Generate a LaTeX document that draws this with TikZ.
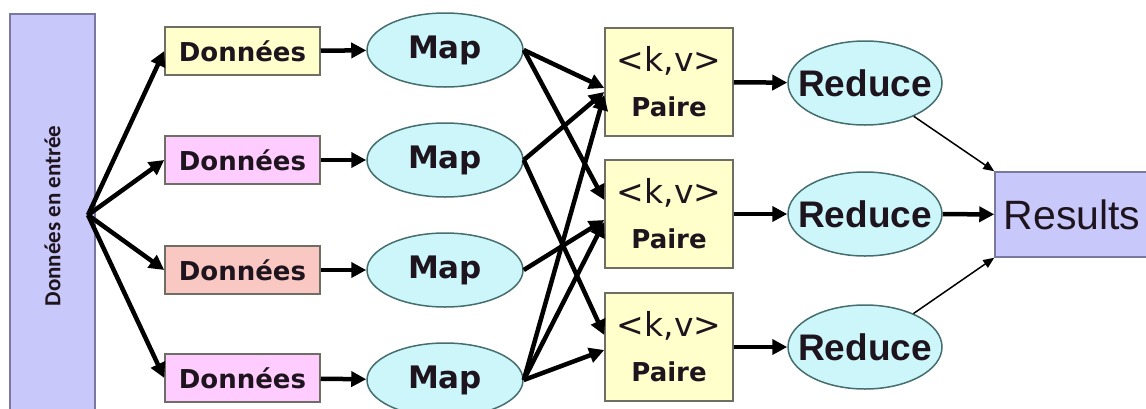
\documentclass[tikz,border=0pt]{standalone}
\usepackage{fontspec}
\setmainfont{DejaVu Sans}
\newfontfamily\arialfont{Liberation Sans}
\newfontfamily\calibrifont{Carlito}
\usetikzlibrary{arrows.meta,shapes.geometric}
\definecolor{lavender}{RGB}{200,200,250}
\definecolor{lavline}{RGB}{120,120,160}
\definecolor{yellowfill}{RGB}{255,255,204}
\definecolor{pinkfill}{RGB}{255,204,255}
\definecolor{salmonfill}{RGB}{250,200,195}
\definecolor{cyanfill}{RGB}{204,246,250}
\definecolor{tealline}{RGB}{70,110,110}
\definecolor{boxgray}{RGB}{110,110,100}
\definecolor{textdark}{RGB}{30,20,30}
\begin{document}
\begin{tikzpicture}[x=1pt, y=-1pt,
    databox/.style={draw=boxgray, line width=1.5pt, minimum width=155pt, minimum height=48pt,
      inner sep=0pt, text=textdark, font=\fontsize{26}{30}\selectfont\bfseries},
    mapnode/.style={ellipse, draw=tealline, fill=cyanfill, line width=1.5pt, minimum width=156pt,
      minimum height=74pt, inner sep=0pt, text=textdark, font=\fontsize{31}{34}\selectfont\bfseries},
    pairbox/.style={draw=boxgray, fill=yellowfill, line width=1.5pt, minimum width=128pt,
      minimum height=108pt, inner sep=0pt, align=center, text=textdark,
      font=\fontsize{26}{45}\selectfont\bfseries},
    rednode/.style={ellipse, draw=tealline, fill=cyanfill, line width=1.5pt, minimum width=154pt,
      minimum height=84pt, inner sep=0pt, text=textdark, font=\arialfont\fontsize{37}{40}\selectfont\bfseries},
    arr/.style={line width=4.5pt, -{Triangle[length=15pt,width=15pt]}},
    thinarr/.style={line width=1.5pt, -{Triangle[length=11pt,width=9pt]}}
  ]
  \useasboundingbox (0,0) rectangle (1146,408);

  % Input block
  \node[draw=lavline, fill=lavender, line width=1.5pt, minimum width=85pt, minimum height=404pt,
    inner sep=0pt, text=textdark] (input) at (52.5,216)
    {\rotatebox{90}{\calibrifont\fontsize{23}{26}\selectfont\bfseries Données en entrée}};
  \coordinate (fan) at (88,215);

  % Data splits
  \node[databox, fill=yellowfill] (d1) at (242.5,51) {Données};
  \node[databox, fill=pinkfill] (d2) at (242.5,160) {Données};
  \node[databox, fill=salmonfill] (d3) at (242.5,270) {Données};
  \node[databox, fill=pinkfill] (d4) at (242.5,378) {Données};

  % Map tasks
  \node[mapnode] (m1) at (445,50) {Map};
  \node[mapnode] (m2) at (445,160) {Map};
  \node[mapnode] (m3) at (445,270) {Map};
  \node[mapnode] (m4) at (445,380) {Map};

  % Key-value pairs
  \node[pairbox] (p1) at (669,82) {{\fontsize{33}{45}\selectfont\mdseries <k,v>}\\Paire};
  \node[pairbox] (p2) at (669,214) {{\fontsize{33}{45}\selectfont\mdseries <k,v>}\\Paire};
  \node[pairbox] (p3) at (669,347) {{\fontsize{33}{45}\selectfont\mdseries <k,v>}\\Paire};

  % Reduce tasks
  \node[rednode] (r1) at (865,83) {\makebox[0pt]{Reduce}};
  \node[rednode] (r2) at (865,214) {\makebox[0pt]{Reduce}};
  \node[rednode] (r3) at (865,347) {\makebox[0pt]{Reduce}};

  % Output
  \node[draw=lavline, fill=lavender, line width=1.5pt, minimum width=160pt, minimum height=85pt,
    inner sep=0pt, text=textdark, font=\arialfont\fontsize{41}{44}\selectfont] (res) at (1075,214.5) {\hspace*{-6pt}Results};

  % Splitting
  \foreach \d in {d1,d2,d3,d4}
    \draw[arr] (fan) -- (\d.west);
  \draw[arr] (d1) -- (m1);
  \draw[arr] (d2) -- (m2);
  \draw[arr] (d3) -- (m3);
  \draw[arr] (d4) -- (m4);

  % Shuffling
  \draw[arr] (m1.east) -- ([yshift=-6pt]p1.west);
  \draw[arr] (m1.east) -- ([yshift=14pt]p2.west);
  \draw[arr] (m2.east) -- ([yshift=-10pt]p1.west);
  \draw[arr] (m2.east) -- ([yshift=12pt]p3.west);
  \draw[arr] (m3.east) -- ([yshift=-6pt]p2.west);
  \draw[arr] (m4.east) -- ([yshift=-13pt]p1.west);
  \draw[arr] (m4.east) -- ([yshift=-8pt]p2.west);
  \draw[arr] (m4.east) -- ([yshift=-3pt]p3.west);

  % Reducing
  \draw[arr] (p1) -- (r1);
  \draw[arr] (p2) -- (r2);
  \draw[arr] (p3) -- (r3);
  \draw[thinarr] (r1) -- (res.north west);
  \draw[arr] (r2) -- (res);
  \draw[thinarr] (r3) -- (res.south west);
\end{tikzpicture}
\end{document}
